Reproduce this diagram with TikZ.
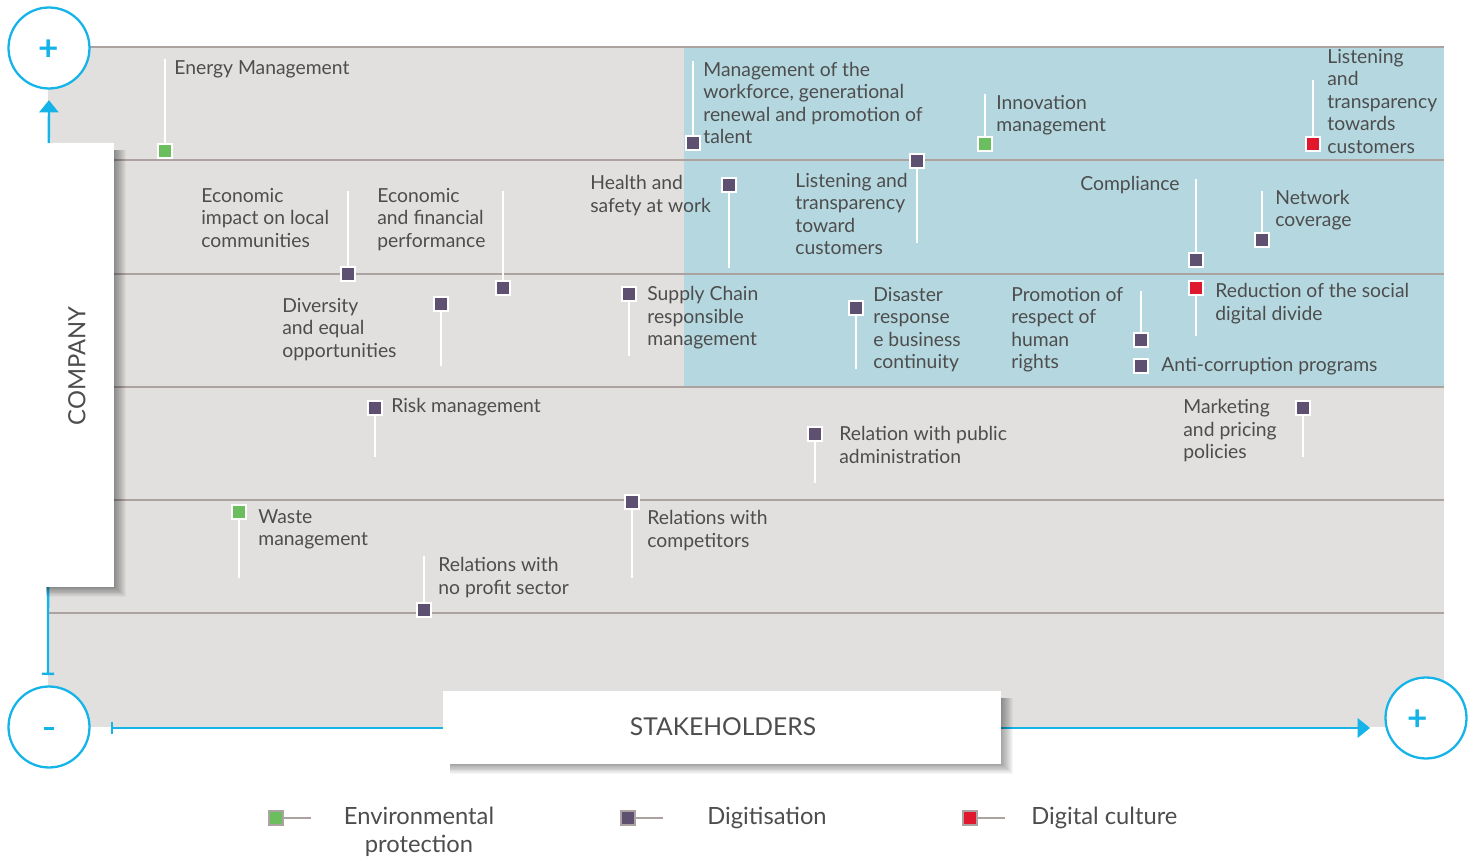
\documentclass[tikz,border=0pt]{standalone}
\usepackage{fontspec}
\setmainfont{Lato}
\usetikzlibrary{arrows.meta}

\definecolor{axiscyan}{RGB}{20,180,232}
\definecolor{bggrey}{RGB}{225,224,223}
\definecolor{bgblue}{RGB}{181,216,224}
\definecolor{rowgrey}{RGB}{172,162,159}
\definecolor{txtgrey}{RGB}{77,77,77}
\definecolor{envgreen}{RGB}{106,190,94}
\definecolor{digpurple}{RGB}{93,80,112}
\definecolor{culred}{RGB}{224,24,45}

\newcommand{\plussign}{\raisebox{-7.3pt}[0pt][0pt]{+}}

\tikzset{
  mk/.style={draw=white, line width=1.1pt, fill=#1, minimum size=0.28cm, inner sep=0pt},
  legmk/.style={draw=rowgrey, line width=1.1pt, fill=#1, minimum size=0.28cm, inner sep=0pt},
  stick/.style={white, line width=1.2pt},
  lbl/.style={anchor=north west, align=left, inner sep=0pt, text=txtgrey,
    font=\fontsize{11}{12.76}\selectfont},
  pm/.style={circle, draw=axiscyan, line width=1.3pt, fill=white, minimum size=1.62cm,
    text=axiscyan, font=\fontsize{20}{20}\bfseries},
  axis/.style={axiscyan, line width=1.3pt},
  legtxt/.style={text=txtgrey, inner sep=0pt, font=\fontsize{13.5}{16}\selectfont}
}

\begin{document}
\begin{tikzpicture}[x=0.02cm, y=-0.02cm]
  \useasboundingbox (0,0) rectangle (1475,861);

  % matrix background
  \fill[bggrey] (48,47) rectangle (1444,727);
  \fill[bgblue] (684,47) rectangle (1444,387);
  \foreach \y in {47,160,274,387,500,613}
    \draw[rowgrey, line width=1.4pt] (48,\y) -- (1444,\y);

  % axes
  \node[pm] (ctop) at (49,48) {\makebox[0pt]{\plussign}};
  \node[pm] (cleft) at (49,727) {\makebox[0pt]{\raisebox{-1.8pt}[0pt][0pt]{\rule{6pt}{1.9pt}}}};
  \node[pm] (cright) at (1426,718) {\makebox[0pt]{\plussign\hspace{9pt}}};
  \coordinate (vbot) at (48,675);
  \coordinate (hleft) at (111,728);
  \coordinate (htip) at (1370,728);
  \draw[axis, {Bar[width=7pt]}-{Triangle[width=11pt,length=7pt]}, shorten >=6pt] (vbot) -- (ctop);
  \draw[axis, {Bar[width=7pt]}-{Triangle[width=11pt,length=7pt]}] (hleft) -- (htip);

  % axis boxes
  \foreach \k in {1,...,12}
    \fill[black, opacity=0.035] (46,150) rectangle (114+\k,587+0.8*\k);
  \fill[white] (40,143) rectangle (114,587);
  \node[legtxt, rotate=90] (company) at (77,366) {COMPANY};

  \foreach \k in {1,...,12}
    \fill[black, opacity=0.035] (450,698) rectangle (1001+\k,764+0.8*\k);
  \fill[white] (443,691) rectangle (1001,764);
  \node[legtxt, font=\fontsize{14}{16}\selectfont] (stake) at (723,727) {STAKEHOLDERS};

  % first row
  \node[mk=envgreen] (energy) at (165,151) {};
  \draw[stick] (energy.north) -- ++(0,-84);
  \node[lbl] (lenergy) at (174,60) {Energy Management};

  \node[mk=digpurple] (workforce) at (693,143) {};
  \draw[stick] (workforce.north) -- ++(0,-74);
  \node[lbl] (lworkforce) at (703,62) {Management of the\\workforce, generational\\renewal and promotion of\\talent};

  \node[mk=envgreen] (innov) at (985,144) {};
  \draw[stick] (innov.north) -- ++(0,-42);
  \node[lbl] (linnov) at (996,95) {Innovation\\management};

  \node[mk=culred] (listenred) at (1313,144) {};
  \draw[stick] (listenred.north) -- ++(0,-56);
  \node[lbl] (llistenred) at (1327,49) {Listening\\and\\transparency\\towards\\customers};

  % second row
  \node[mk=digpurple] (listen) at (917,161) {};
  \draw[stick] (listen.south) -- ++(0,74);
  \node[lbl] (llisten) at (795,173) {Listening and\\transparency\\toward\\customers};

  \node[mk=digpurple] (health) at (729,185) {};
  \draw[stick] (health.south) -- ++(0,75);
  \node[lbl] (lhealth) at (590,175) {Health and\\safety at work};

  \node[mk=digpurple] (econimp) at (348,274) {};
  \draw[stick] (econimp.north) -- ++(0,-75);
  \node[lbl] (leconimp) at (201,188) {Economic\\impact on local\\communities};

  \node[mk=digpurple] (econfin) at (503,288) {};
  \draw[stick] (econfin.north) -- ++(0,-89);
  \node[lbl] (leconfin) at (377,188) {Economic\\and financial\\performance};

  \node[mk=digpurple] (compl) at (1196,260) {};
  \draw[stick] (compl.north) -- ++(0,-73);
  \node[lbl] (lcompl) at (1080,176) {Compliance};

  \node[mk=digpurple] (network) at (1262,240) {};
  \draw[stick] (network.north) -- ++(0,-41);
  \node[lbl] (lnetwork) at (1275,190) {Network\\coverage};

  % third row
  \node[mk=digpurple] (divers) at (441,304) {};
  \draw[stick] (divers.south) -- ++(0,54);
  \node[lbl] (ldivers) at (282,298) {Diversity\\and equal\\opportunities};

  \node[mk=digpurple] (supply) at (629,294) {};
  \draw[stick] (supply.south) -- ++(0,54);
  \node[lbl] (lsupply) at (647,286) {Supply Chain\\responsible\\management};

  \node[mk=digpurple] (disaster) at (856,308) {};
  \draw[stick] (disaster.south) -- ++(0,53);
  \node[lbl] (ldisaster) at (873,287) {Disaster\\response\\e business\\continuity};

  \node[mk=digpurple] (rights) at (1141,340) {};
  \draw[stick] (rights.north) -- ++(0,-41);
  \node[lbl] (lrights) at (1011,287) {Promotion of\\respect of\\human\\rights};

  \node[mk=culred] (divide) at (1196,288) {};
  \draw[stick] (divide.south) -- ++(0,40);
  \node[lbl] (ldivide) at (1215,283) {Reduction of the social\\digital divide};

  \node[mk=digpurple] (anticorr) at (1141,366) {};
  \node[lbl, anchor=west] (lanticorr) at (1161,366) {Anti-corruption programs};

  % fourth row
  \node[mk=digpurple] (risk) at (375,408) {};
  \draw[stick] (risk.south) -- ++(0,41);
  \node[lbl, anchor=west] (lrisk) at (391,407) {Risk management};

  \node[mk=digpurple] (pubadm) at (815,434) {};
  \draw[stick] (pubadm.south) -- ++(0,41);
  \node[lbl] (lpubadm) at (839,426) {Relation with public\\administration};

  \node[mk=digpurple] (market) at (1303,408) {};
  \draw[stick] (market.south) -- ++(0,41);
  \node[lbl] (lmarket) at (1183,399) {Marketing\\and pricing\\policies};

  % fifth row
  \node[mk=envgreen] (waste) at (239,512) {};
  \draw[stick] (waste.south) -- ++(0,58);
  \node[lbl] (lwaste) at (258,509) {Waste\\management};

  \node[mk=digpurple] (compet) at (632,502) {};
  \draw[stick] (compet.south) -- ++(0,68);
  \node[lbl] (lcompet) at (647,510) {Relations with\\competitors};

  \node[mk=digpurple] (noprofit) at (424,610) {};
  \draw[stick] (noprofit.north) -- ++(0,-46);
  \node[lbl] (lnoprofit) at (438,557) {Relations with\\no profit sector};

  % legend
  \node[legmk=envgreen] (legenv) at (276,818) {};
  \draw[rowgrey, line width=1.4pt] (legenv.east) -- ++(27,0);
  \node[legtxt, align=center] (tenv) at (419,832) {Environmental\\protection};

  \node[legmk=digpurple] (legdig) at (628,818) {};
  \draw[rowgrey, line width=1.4pt] (legdig.east) -- ++(27,0);
  \node[legtxt, anchor=west] (tdig) at (707,818) {Digitisation};

  \node[legmk=culred] (legcul) at (970,818) {};
  \draw[rowgrey, line width=1.4pt] (legcul.east) -- ++(27,0);
  \node[legtxt, anchor=west] (tcul) at (1031,818) {Digital culture};
\end{tikzpicture}
\end{document}
